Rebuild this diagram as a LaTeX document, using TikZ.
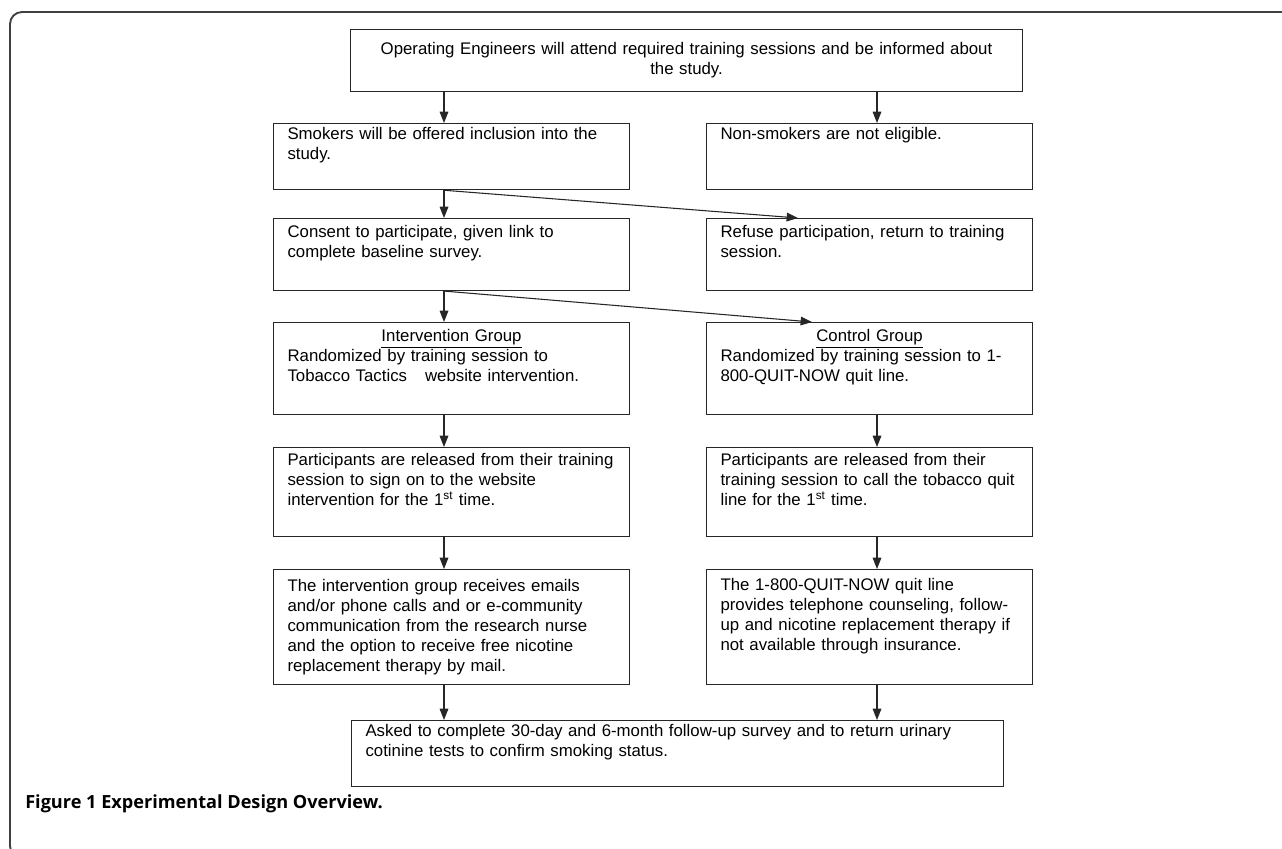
\documentclass[tikz,border=0pt]{standalone}
\usepackage{fontspec}
\setmainfont{Liberation Sans}
\newfontfamily\capfont{Open Sans}
\usetikzlibrary{arrows.meta,positioning}

\tikzset{
  stage/.style={draw=black!85, line width=0.8pt, rectangle, anchor=north west,
                align=left, inner xsep=10.5pt, inner ysep=3pt,
                font=\fontsize{12.6}{15}\selectfont},
  leftcol/.style={stage, text width=246pt},
  rightcol/.style={stage, text width=223.5pt},
  flow/.style={-{Triangle[length=8.5pt,width=6.5pt]}, line width=0.8pt, draw=black!85},
}

\begin{document}
\begin{tikzpicture}[x=0.75pt,y=-0.75pt]
\useasboundingbox (0,0) rectangle (1282,849);

\draw[black!75, line width=1.4pt, rounded corners=9] (1290,12) -- (10,12) -- (10,858) -- (40,858);

\node[stage, align=center, text width=483pt, minimum height=46.5pt] (train) at (350,29)
  {Operating Engineers will attend required training sessions and be informed about\\ the study.};

\node[leftcol, minimum height=45.75pt] (smk) at (273,123)
  {Smokers will be offered inclusion into the\\ study.\\ \strut};
\node[rightcol, minimum height=45.75pt] (nonsmk) at (706,123)
  {Non-smokers are not eligible.\\ \strut\\ \strut};

\node[leftcol, minimum height=54pt] (consent) at (273,218)
  {Consent to participate, given link to\\ complete baseline survey.\\ \strut};
\node[rightcol, minimum height=54pt] (refuse) at (706,218)
  {Refuse participation, return to training\\ session.\\ \strut};

\node[leftcol, minimum height=69pt] (intgrp) at (273,322)
  {\makebox[\linewidth]{\underline{Intervention Group}}\\
   Randomized by training session to\\
   Tobacco Tactics\hspace{13.5pt}website intervention.\\ \strut};
\node[rightcol, minimum height=69pt] (ctlgrp) at (706,322)
  {\makebox[\linewidth]{\underline{Control Group}}\\
   Randomized by training session to 1-\\
   800-QUIT-NOW quit line.\\ \strut};

\node[leftcol, minimum height=66.75pt] (intrel) at (273,447)
  {Participants are released from their training\\ session to sign on to the website\\
   intervention for the 1\textsuperscript{st} time.\\ \strut};
\node[rightcol, minimum height=66.75pt] (ctlrel) at (706,447)
  {Participants are released from their\\ training session to call the tobacco quit\\
   line for the 1\textsuperscript{st} time.\\ \strut};

\node[leftcol, minimum height=86.25pt] (intfu) at (273,569)
  {The intervention group receives emails\\ and/or phone calls and or e-community\\
   communication from the research nurse\\ and the option to receive free nicotine\\
   replacement therapy by mail.};
\node[rightcol, minimum height=86.25pt] (ctlfu) at (706,569)
  {The 1-800-QUIT-NOW quit line\\ provides telephone counseling, follow-\\
   up and nicotine replacement therapy if\\ not available through insurance.\\ \strut};

\node[stage, text width=468pt, minimum height=48pt] (survey) at (351,720)
  {Asked to complete 30-day and 6-month follow-up survey and to return urinary\\
   cotinine tests to confirm smoking status.\\ \strut};

\node[anchor=base west, inner xsep=0pt, font=\capfont\bfseries\fontsize{13.6}{16}\selectfont] (caption) at (25,808)
  {Figure 1 Experimental Design Overview.};

\coordinate (colL) at (444,0);
\coordinate (colR) at (877,0);
\coordinate (hitA) at (798,0);
\coordinate (hitB) at (812,0);

\draw[flow] (train.south -| colL) -- (smk.north -| colL);
\draw[flow] (train.south -| colR) -- (nonsmk.north -| colR);

\draw[flow] (smk.south -| colL) -- (consent.north -| colL);
\draw[flow] (smk.south -| colL) -- (refuse.north -| hitA);

\draw[flow] (consent.south -| colL) -- (intgrp.north -| colL);
\draw[flow] (consent.south -| colL) -- (ctlgrp.north -| hitB);

\draw[flow] (intgrp.south -| colL) -- (intrel.north -| colL);
\draw[flow] (ctlgrp.south -| colR) -- (ctlrel.north -| colR);

\draw[flow] (intrel.south -| colL) -- (intfu.north -| colL);
\draw[flow] (ctlrel.south -| colR) -- (ctlfu.north -| colR);

\draw[flow] (intfu.south -| colL) -- (survey.north -| colL);
\draw[flow] (ctlfu.south -| colR) -- (survey.north -| colR);
\end{tikzpicture}
\end{document}
